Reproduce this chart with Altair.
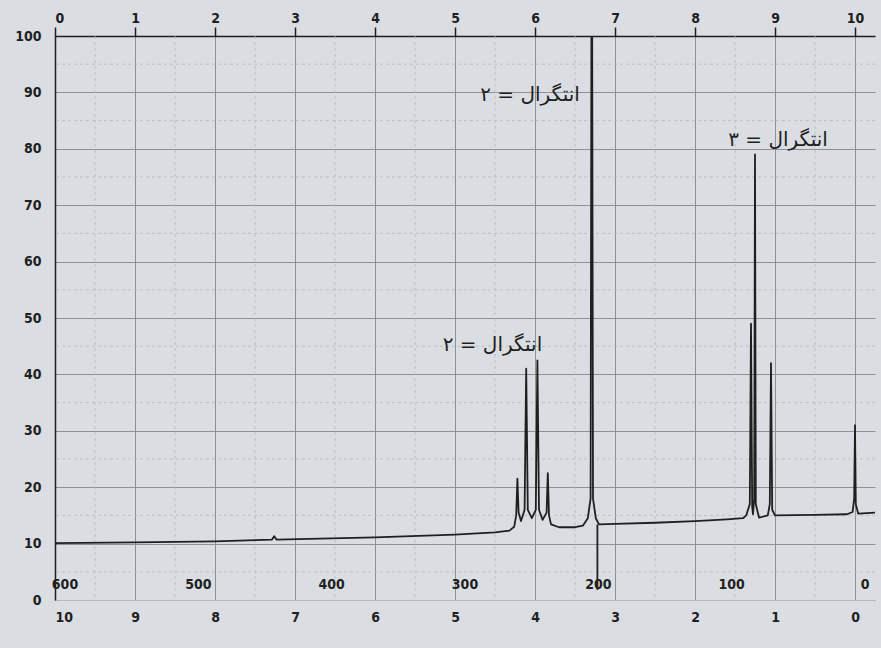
import altair as alt
import pandas as pd

# Proton NMR trace, 60 MHz: chemical shift (ppm, delta) and pen height (chart units 0-100)
trace_ppm = [
    10.00, 9.00, 8.00, 7.29, 7.26, 7.23, 6.00, 5.00, 4.50, 4.32,
    4.26, 4.235, 4.22, 4.205, 4.175, 4.13, 4.11, 4.09, 4.04, 3.99,
    3.97, 3.95, 3.905, 3.855, 3.84, 3.825, 3.80, 3.70, 3.50, 3.40,
    3.34, 3.305, 3.29, 3.275, 3.24, 3.20, 3.00, 2.50, 2.00, 1.60,
    1.40, 1.36, 1.315, 1.30, 1.285, 1.275, 1.26, 1.25, 1.24, 1.20,
    1.09, 1.065, 1.05, 1.035, 1.00, 0.50, 0.10, 0.03, 0.01, 0.00,
    -0.01, -0.04, -0.25,
]
trace_int = [
    10.1, 10.2, 10.4, 10.7, 11.3, 10.7, 11.1, 11.6, 12.0, 12.3,
    13.0, 15.0, 21.5, 15.5, 14.0, 16.0, 41.0, 16.0, 14.5, 16.0,
    42.5, 16.0, 14.2, 15.5, 22.5, 15.0, 13.4, 12.9, 12.9, 13.2,
    14.5, 18.0, 140.0, 18.0, 14.5, 13.4, 13.5, 13.7, 14.0, 14.3,
    14.5, 15.0, 17.0, 49.0, 16.5, 15.2, 18.0, 79.0, 17.0, 14.6,
    15.0, 17.0, 42.0, 16.0, 15.0, 15.1, 15.2, 15.6, 18.0, 31.0,
    17.0, 15.3, 15.5,
]

# Pen drop below the baseline after the off-scale singlet
drop_ppm = [3.22]
drop_top = [13.4]
drop_bottom = [1.8]

# Axis ticks
ppm_ticks = list(range(0, 11))
int_ticks = list(range(0, 101, 10))
minor_ppm = [9.5, 8.5, 7.5, 6.5, 5.5, 4.5, 3.5, 2.5, 1.5, 0.5]
minor_int = [5, 15, 25, 35, 45, 55, 65, 75, 85, 95]

# Frequency scale in Hz (60 MHz: 60 Hz per ppm)
hz_values = [600, 500, 400, 300, 200, 100, 0]
hz_level = 2.7

# Integral annotations
integral_text = ["۲ = انتگرال", "۲ = انتگرال", "۳ = انتگرال"]
integral_ppm = [3.44, 3.91, 0.34]
integral_y = [89.5, 45.2, 81.6]

PAPER = "#dadee3"
INK = "#1f1f1f"
GRID = "#8d9196"
MINOR = "#b5b9be"
FONT = "DejaVu Sans Condensed, DejaVu Sans"

x_scale = alt.Scale(domain=[-0.25, 10], reverse=True, nice=False, zero=False)
y_scale = alt.Scale(domain=[0, 100], nice=False, zero=False)

trace = pd.DataFrame({"ppm": trace_ppm, "intensity": trace_int,
                      "step": list(range(len(trace_ppm)))})
vminor = pd.DataFrame({"ppm": minor_ppm})
hminor = pd.DataFrame({"intensity": minor_int})
drops = pd.DataFrame({"ppm": drop_ppm, "top": drop_top, "bottom": drop_bottom})
hz = pd.DataFrame({"ppm": [h / 60 for h in hz_values],
                   "label": [str(h) for h in hz_values],
                   "intensity": [hz_level] * len(hz_values)})
notes = pd.DataFrame({"ppm": integral_ppm, "intensity": integral_y,
                      "label": integral_text})

label_style = dict(labelFont=FONT, labelFontWeight="bold", labelFontSize=14,
                   labelColor=INK, title=None)

# One shared intensity axis: every layer with a y channel carries the same spec
y_axis = alt.Axis(orient="left", values=int_ticks, grid=True, gridColor=GRID,
                  gridWidth=1, domainColor=INK, domainWidth=1.5,
                  ticks=False, labelPadding=14, **label_style)

# Minor chart-paper lines, carrying the tau scale on top
v_lines = alt.Chart(vminor).mark_rule(color=MINOR, strokeWidth=0.8,
                                      strokeDash=[3, 3]).encode(
    x=alt.X("ppm:Q", scale=x_scale,
            axis=alt.Axis(orient="top", values=ppm_ticks,
                          labelExpr="'' + (10 - datum.value)",
                          grid=False, domainColor=INK, domainWidth=1.5,
                          tickColor=INK, tickSize=9, tickWidth=1.5,
                          labelPadding=2, **label_style))
)
h_lines = alt.Chart(hminor).mark_rule(color=MINOR, strokeWidth=0.8,
                                      strokeDash=[3, 3]).encode(
    y=alt.Y("intensity:Q", scale=y_scale, axis=y_axis)
)

line = alt.Chart(trace).mark_line(color=INK, strokeWidth=1.8, clip=True,
                                  strokeJoin="round").encode(
    x=alt.X("ppm:Q", scale=x_scale,
            axis=alt.Axis(orient="bottom", values=ppm_ticks, format="d",
                          grid=True, gridColor=GRID, gridWidth=1,
                          domainColor=MINOR, ticks=False, labelPadding=10,
                          **label_style)),
    y=alt.Y("intensity:Q", scale=y_scale, axis=y_axis),
    order="step:Q",
)

drop = alt.Chart(drops).mark_rule(color=INK, strokeWidth=1.8).encode(
    x=alt.X("ppm:Q", axis=None),
    y=alt.Y("top:Q", axis=y_axis),
    y2="bottom:Q",
)

hz_text = alt.Chart(hz).mark_text(font=FONT, fontWeight="bold", fontSize=14,
                                  color=INK, dx=10, baseline="middle").encode(
    x=alt.X("ppm:Q", axis=None),
    y=alt.Y("intensity:Q", axis=y_axis),
    text="label:N",
)

note_text = alt.Chart(notes).mark_text(font="DejaVu Sans", fontSize=20,
                                       color=INK, align="right",
                                       baseline="middle").encode(
    x=alt.X("ppm:Q", axis=None),
    y=alt.Y("intensity:Q", axis=y_axis),
    text="label:N",
)

chart = alt.layer(v_lines, h_lines, line, drop, hz_text, note_text).properties(
    width=820, height=564,
    autosize=alt.AutoSizeParams(type="none"),
    padding={"left": 55, "top": 36, "right": 6, "bottom": 48},
    background=PAPER,
).configure_view(stroke=None, fill=PAPER)

chart.save("out.html", embed_options={"renderer": "svg", "actions": False})
